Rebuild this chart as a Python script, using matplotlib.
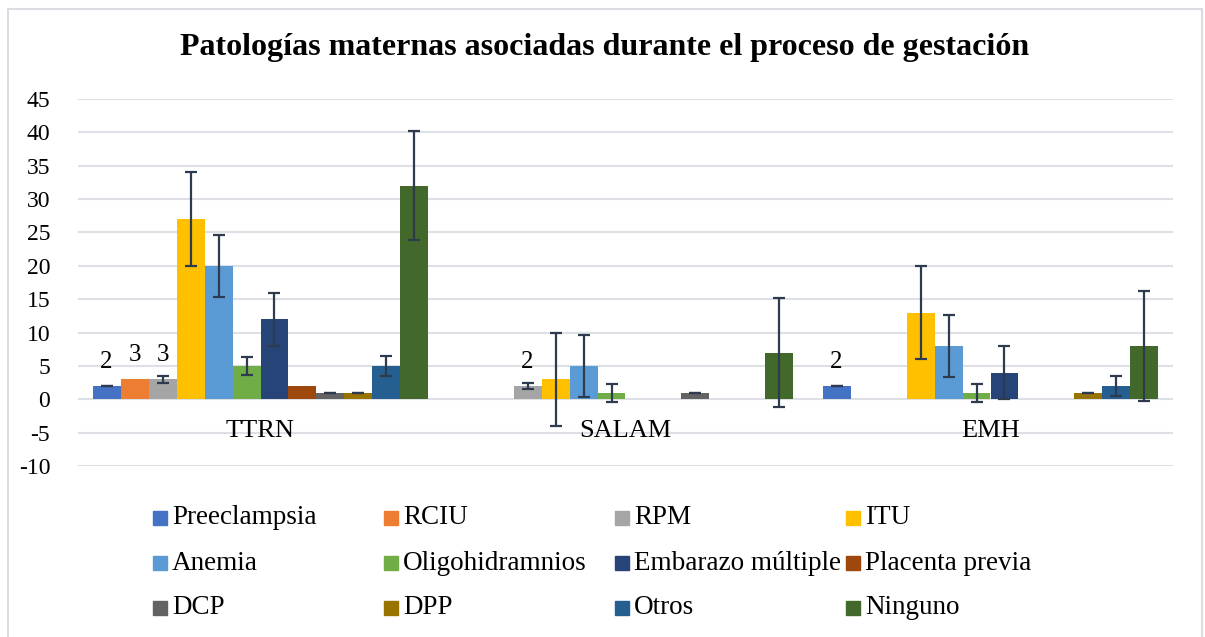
import numpy as np
import matplotlib
matplotlib.use("Agg")
from matplotlib import pyplot as plt
from matplotlib.patches import Rectangle

plt.rcParams['font.family'] = ['Liberation Serif', 'DejaVu Serif']
plt.rcParams['axes.unicode_minus'] = False

# data (nan = empty cell, no bar)
groups = ['TTRN', 'SALAM', 'EMH']
series = ['Preeclampsia', 'RCIU', 'RPM', 'ITU',
          'Anemia', 'Oligohidramnios', 'Embarazo múltiple', 'Placenta previa',
          'DCP', 'DPP', 'Otros', 'Ninguno']
nan = np.nan
values = [
    [2, 3, 3, 27, 20, 5, 12, 2, 1, 1, 5, 32],              # TTRN
    [nan, nan, 2, 3, 5, 1, nan, nan, 1, nan, nan, 7],      # SALAM
    [2, nan, nan, 13, 8, 1, 4, nan, nan, 1, 2, 8],         # EMH
]
# error per series (same for each group); nan = no error bar
errors = [0, nan, 0.5, 7, 4.6, 1.35, 4, nan, 0, 0, 1.5, 8.2]
# value labels shown in the chart: (group, series)
labelled = [(0, 0), (0, 1), (0, 2), (1, 2), (2, 0)]

colors = ['#4472C4', '#ED7D31', '#A5A5A5', '#FFC000',
          '#5B9BD5', '#70AD47', '#264478', '#9E480E',
          '#636363', '#997300', '#255E91', '#43682B']

W, H = 1205, 637
fig = plt.figure(figsize=(W / 100, H / 100), dpi=100)
ax = fig.add_axes([78 / W, 1 - 466 / H, (1173 - 78) / W, (466 - 99) / H])

vals = np.array(values, dtype=float)
n = len(series)
w = 1 / (n + 1.04)
xg = np.arange(len(groups))

for j, name in enumerate(series):
    x = xg + (j - (n - 1) / 2) * w
    y = vals[:, j]
    ax.bar(x, np.nan_to_num(y), width=w, color=colors[j], zorder=2)
    if not np.isnan(errors[j]):
        ok = ~np.isnan(y)
        ax.errorbar(x[ok], y[ok], yerr=errors[j], fmt='none',
                    ecolor='#2E3A4E', elinewidth=1.6, capsize=4.3,
                    capthick=1.6, zorder=3)

for gi, sj in labelled:
    x = xg[gi] + (sj - (n - 1) / 2) * w
    ax.annotate(f'{vals[gi, sj]:.0f}', (x, vals[gi, sj]), xytext=(0, 24),
                textcoords='offset pixels', ha='center', va='center',
                fontsize=18)

for gi, g in enumerate(groups):
    ax.text(xg[gi], -4.7, g, ha='center', va='center', fontsize=19)

ax.set_xlim(-0.5, len(groups) - 0.5)
ax.set_ylim(-10, 45)
ax.set_yticks(np.arange(-10, 46, 5))
ax.set_xticks([])
ax.tick_params(axis='y', length=0, pad=20, labelsize=17)
ax.grid(axis='y', color='#DDE1E6', linewidth=1.5, zorder=0)
ax.set_axisbelow(True)
for s in ax.spines.values():
    s.set_visible(False)

fig.text(605 / W, 1 - 48 / H,
         'Patologías maternas asociadas durante el proceso de gestación',
         ha='center', va='center', fontsize=23, fontweight='bold')

# legend, 4 columns x 3 rows as in the original
for j, name in enumerate(series):
    r, c = divmod(j, 4)
    mx = 153 + 231 * c
    my = 518 + 45 * r
    fig.add_artist(Rectangle((mx / W, 1 - (my + 7) / H), 14 / W, 14 / H,
                             transform=fig.transFigure, color=colors[j]))
    fig.text((mx + 19) / W, 1 - my / H, name, ha='left', va='center',
             fontsize=19.5)

# outer chart border
fig.add_artist(Rectangle((8 / W, -0.05), (1202 - 8) / W, 1 - 9 / H + 0.05,
                         transform=fig.transFigure, fill=False,
                         edgecolor='#D9DDE3', linewidth=1.5))

fig.savefig('out.png', dpi=100)
